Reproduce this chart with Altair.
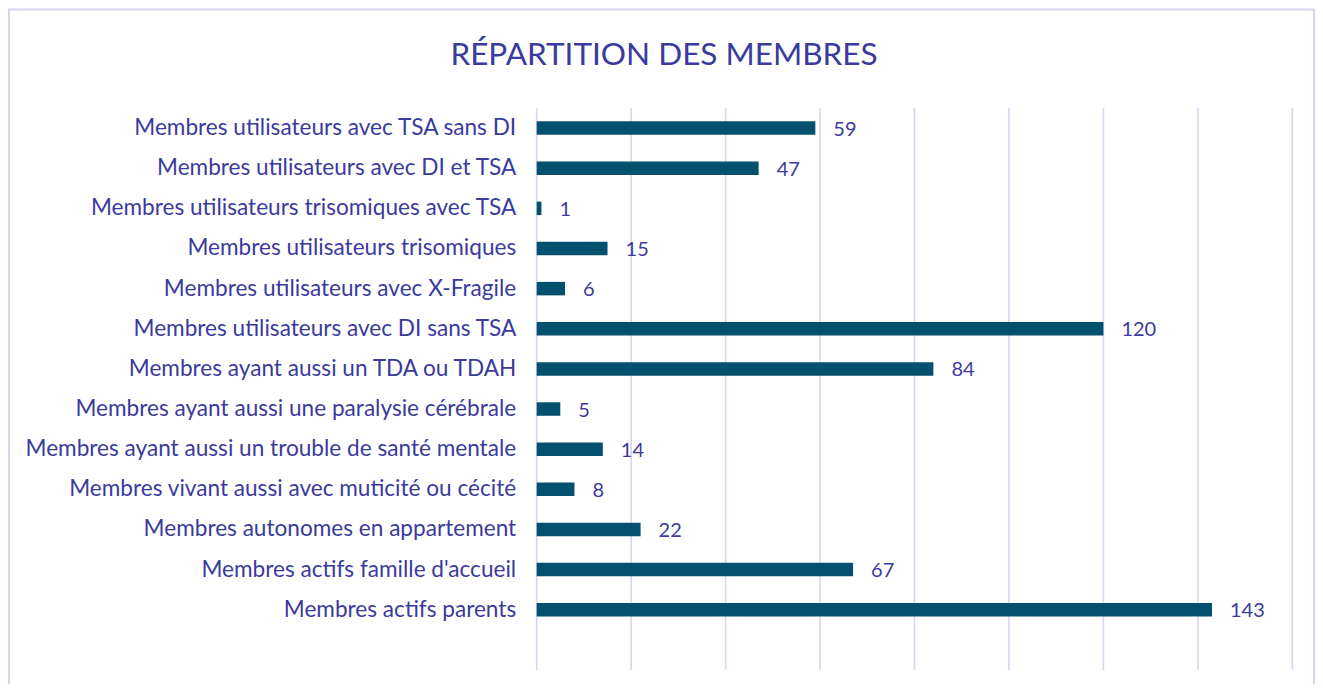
import altair as alt
import pandas as pd

categories = [
    "Membres utilisateurs avec TSA sans DI",
    "Membres utilisateurs avec DI et TSA",
    "Membres utilisateurs trisomiques avec TSA",
    "Membres utilisateurs trisomiques ",
    "Membres utilisateurs avec X-Fragile",
    "Membres utilisateurs avec DI sans TSA",
    "Membres ayant aussi un TDA ou TDAH",
    "Membres ayant aussi une paralysie cérébrale",
    "Membres ayant aussi un trouble de santé mentale",
    "Membres vivant aussi avec muticité ou cécité",
    "Membres autonomes en appartement",
    "Membres actifs famille d'accueil",
    "Membres actifs parents",
]
values = [59, 47, 1, 15, 6, 120, 84, 5, 14, 8, 22, 67, 143]
grid_values = [0, 20, 40, 60, 80, 100, 120, 140, 160]
title_text = "RÉPARTITION DES MEMBRES"

TEXT = "#3b3a9e"
BAR = "#03506f"
GRID = "#d8d5f3"
FONT = "Lato"

W = 755.6
H = 562

df = pd.DataFrame({"cat": categories, "val": values})
gdf = pd.DataFrame({"g": grid_values})

xscale = alt.Scale(domain=[0, 160], nice=False)

y_enc = alt.Y(
    "cat:N",
    sort=categories,
    title=None,
    scale=alt.Scale(range=[0, 521.8], paddingInner=0.664, paddingOuter=0.332),
    axis=alt.Axis(
        domain=False, ticks=False, labelPadding=21, labelFontSize=22.6,
        labelFont=FONT, labelColor=TEXT, labelLimit=0, grid=False,
    ),
)
x_enc = alt.X("val:Q", title=None, scale=xscale, axis=None)

grid = alt.Chart(gdf).mark_rule(color=GRID, strokeWidth=1.6).encode(
    x=alt.X("g:Q", scale=xscale, axis=None),
    y=alt.value(0),
    y2=alt.value(H),
)

bars = alt.Chart(df).mark_bar(color=BAR).encode(x=x_enc, y=y_enc)
labels = alt.Chart(df).mark_text(
    align="left", baseline="middle", dx=18, dy=1.5,
    fontSize=20, font=FONT, color=TEXT,
).encode(x="val:Q", y=alt.Y("cat:N", sort=categories), text="val:Q")

one = pd.DataFrame({"t": [title_text]})
frame = alt.Chart(one).mark_rect(
    fillOpacity=0, stroke="#d6d2f4", strokeWidth=2
).encode(
    x=alt.value(-527.7), x2=alt.value(777.3),
    y=alt.value(-98.5), y2=alt.value(600),
)
title = alt.Chart(one).mark_text(
    align="center", baseline="alphabetic", fontSize=31.5, font=FONT, color=TEXT,
).encode(x=alt.value(127.3), y=alt.value(-43), text="t:N")

chart = alt.layer(grid, bars, labels, frame, title).properties(
    width=W,
    height=H,
    autosize=alt.AutoSizeParams(type="none"),
    padding={"left": 528.7, "top": 100, "right": 22.7, "bottom": 14},
    background="white",
).configure_view(stroke=None)

chart.save("out.html", embed_options={"renderer": "svg", "actions": False})
